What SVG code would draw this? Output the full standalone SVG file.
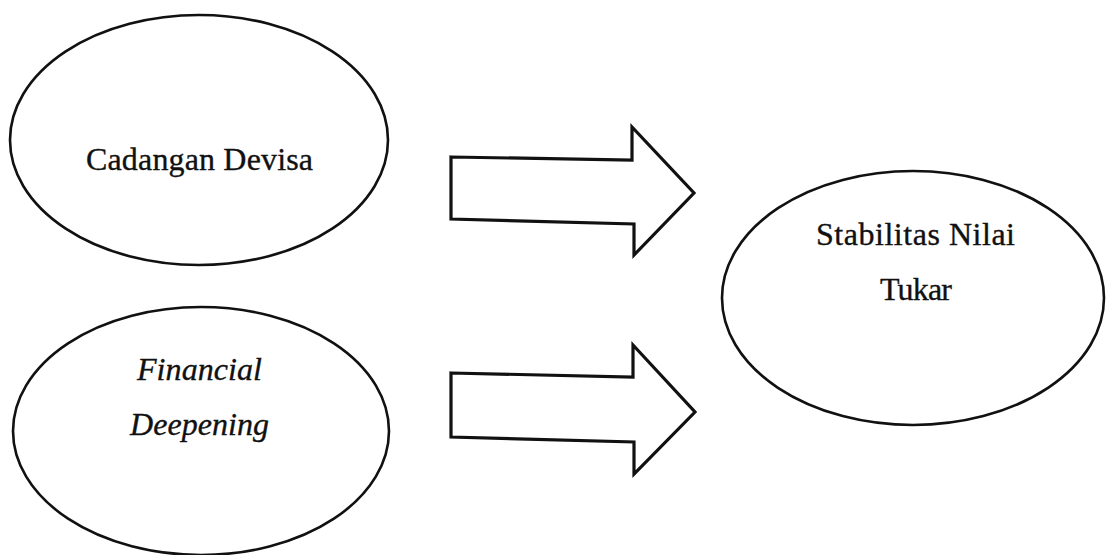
<svg xmlns="http://www.w3.org/2000/svg" width="1107" height="555" viewBox="0 0 1107 555">
<style>
.node{fill:none;stroke:#111;stroke-width:2.6}
.arrow{fill:none;stroke:#111;stroke-width:3.2;stroke-linejoin:miter}
.lbl{font-family:"Liberation Serif","Times New Roman",serif;font-size:32px;fill:#111;stroke:#111;stroke-width:0.35;text-anchor:middle}
.it{font-style:italic}
</style>
<rect width="1107" height="555" fill="#ffffff"/>
<g id="node-cadangan">
<ellipse class="node" cx="199" cy="140" rx="189" ry="125"/>
<text class="lbl" x="199.5" y="170" textLength="227">Cadangan Devisa</text>
</g>
<g id="node-financial">
<ellipse class="node" cx="201" cy="431" rx="188" ry="124"/>
<text class="lbl it" x="199.5" y="380" textLength="125">Financial</text>
<text class="lbl it" x="199.5" y="435" textLength="139">Deepening</text>
</g>
<g id="node-stabilitas">
<ellipse class="node" cx="913" cy="298" rx="191" ry="127"/>
<text class="lbl" x="915.5" y="245" textLength="199">Stabilitas Nilai</text>
<text class="lbl" x="916" y="300" textLength="72">Tukar</text>
</g>
<g id="connectors">
<path class="arrow" d="M451,157 L632,160 L632,127 L694,193 L634,255 L634,224 L451,219 Z"/>
<path class="arrow" d="M451,373 L633,377 L633,345 L695,412 L634,474 L634,442 L451,437 Z"/>
</g>
</svg>
